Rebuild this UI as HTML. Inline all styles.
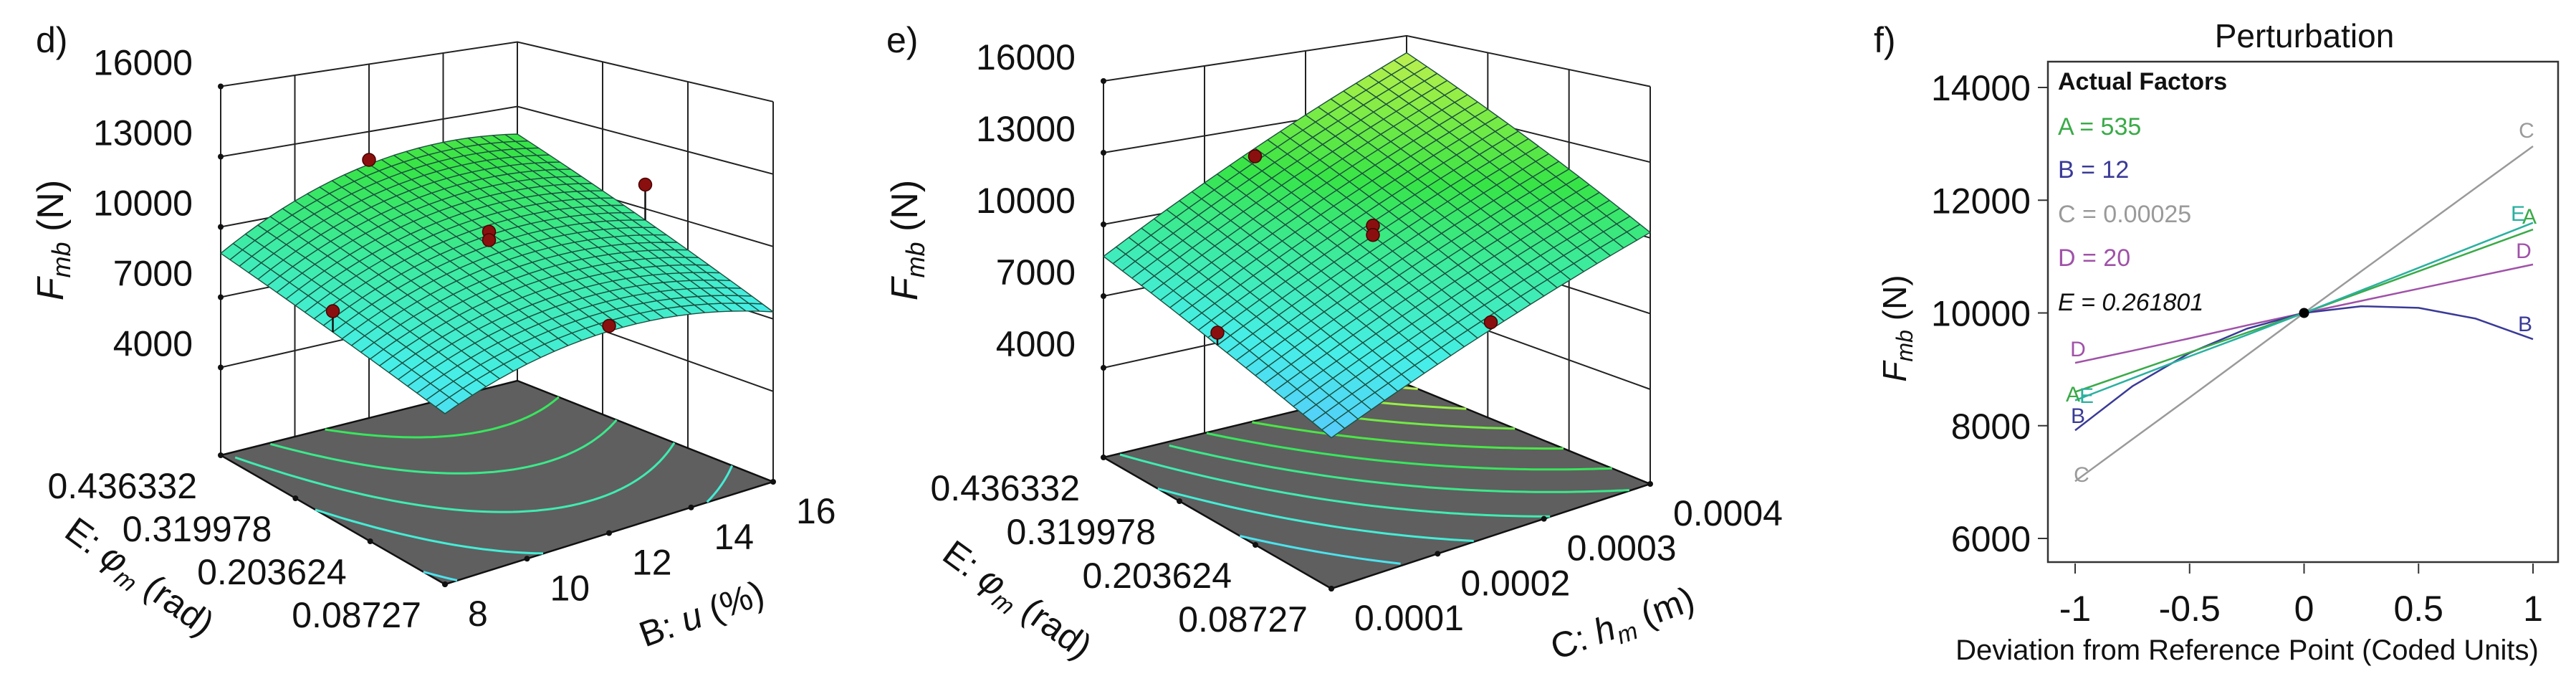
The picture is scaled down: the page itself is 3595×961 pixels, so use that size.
<!DOCTYPE html>
<html><head><meta charset="utf-8"><style>
html,body{margin:0;padding:0;background:#fff;}
svg{display:block;font-family:"Liberation Sans",sans-serif;}
</style></head><body>
<svg id="fig" width="3595" height="961" viewBox="0 0 3595 961" xmlns="http://www.w3.org/2000/svg">
<g id="pd"></g>
<g id="pe"></g>
<g id="pf"></g>
</svg>
<script>
// ---------- data ----------
const zTicks = [4000, 7000, 10000, 13000, 16000];
const eTickLabels = ['0.436332', '0.319978', '0.203624', '0.08727'];
const eTickCoded = [1, 1/3, -1/3, -1];
const bTickLabels = ['8', '10', '12', '14', '16'];
const bTickCoded = [-1, -0.5, 0, 0.5, 1];
const cTickLabels = ['0.0001', '0.0002', '0.0003', '0.0004'];
const cTickCoded = [-1, -1/3, 1/3, 1];
// surface model coefficients [mean, u, u^2, v, u*v]
const dCoef = [9920, 833, -1250, 1625, 588];
const eCoef = [10148, 2725, -150, 1948, 560];
const dContours = [7000, 8000, 9000, 10000, 11000];
const eContours = [7000, 8000, 9000, 10000, 11000, 12000, 13000, 14000, 15000];
const dPtU = [0, 1, 0, 0, -1, 0];
const dPtV = [1, 0, 0, 0, 0, -1];
const dPtZ = [11740, 11056, 10500, 10150, 8685, 8507];
const ePtU = [0, 0, 0, -1, 0];
const ePtV = [1, 0, 0, 0, -1];
const ePtZ = [11745, 10570, 10190, 7764, 8480];
// perturbation
const pertX = [-1, -0.75, -0.5, -0.25, 0, 0.25, 0.5, 0.75, 1];
const pertA = [8600, 8950, 9300, 9650, 10000, 10370, 10740, 11110, 11480];
const pertB = [7918, 8700, 9290, 9720, 10000, 10120, 10090, 9900, 9535];
const pertC = [7015, 7760, 8500, 9250, 10000, 10740, 11480, 12220, 12957];
const pertD = [9115, 9330, 9550, 9780, 10000, 10215, 10430, 10645, 10860];
const pertE = [8450, 8840, 9230, 9610, 10000, 10400, 10800, 11200, 11600];
const pertYTicks = [6000, 8000, 10000, 12000, 14000];
const pertXTicks = [-1, -0.5, 0, 0.5, 1];
const pertXTickLabels = ['-1', '-0.5', '0', '0.5', '1'];
</script>
<script>
const NS = 'http://www.w3.org/2000/svg';
function mk(tag, attrs, parent) {
  const el = document.createElementNS(NS, tag);
  for (const k in attrs) el.setAttribute(k, attrs[k]);
  parent.appendChild(el);
  return el;
}
function cmap(z) {
  const st = [[4000,[60,120,255]],[6000,[85,205,250]],[7500,[70,238,232]],[9500,[60,235,160]],[11500,[55,228,70]],[14000,[150,238,70]],[16000,[215,240,90]]];
  if (z <= st[0][0]) return 'rgb(' + st[0][1].join(',') + ')';
  for (let i = 1; i < st.length; i++) {
    if (z <= st[i][0]) {
      const f = (z - st[i-1][0]) / (st[i][0] - st[i-1][0]);
      const c = st[i-1][1].map((a, j) => Math.round(a + (st[i][1][j] - a) * f));
      return 'rgb(' + c.join(',') + ')';
    }
  }
  return 'rgb(' + st[st.length-1][1].join(',') + ')';
}
function surfacePanel(g, cfg) {
  const C = cfg.corners; // front, right, left, back: [x,y,sp]
  const Z0 = 250, ZT = 16000;
  function proj(u, v, z) {
    const s = (u + 1) / 2, t = (v + 1) / 2;
    const w = [(1-s)*(1-t), s*(1-t), (1-s)*t, s*t];
    let x = 0, y = 0, sp = 0;
    for (let i = 0; i < 4; i++) { x += w[i]*C[i][0]; y += w[i]*C[i][1]; sp += w[i]*C[i][2]; }
    return [x, y - (z - Z0) / 3000 * sp];
  }
  const k = cfg.coef;
  const F = (u, v) => k[0] + k[1]*u + k[2]*u*u + k[3]*v + k[4]*u*v;
  const pts = a => a.map(p => p[0].toFixed(1) + ',' + p[1].toFixed(1)).join(' ');
  const walls = mk('g', {}, g);
  
  
  zTicks.forEach(z => {
    const l = mk('polyline', {points: pts([proj(-1,1,z), proj(1,1,z), proj(1,-1,z)]), fill: 'none', stroke: '#222', 'stroke-width': 2}, walls);
    
    
  });
  cfg.uTicks.forEach(u => {
    const a = proj(u,1,Z0), b = proj(u,1,ZT);
    const l = mk('line', {x1:a[0],y1:a[1],x2:b[0],y2:b[1],stroke:'#222','stroke-width':2}, walls);
    
    
  });
  eTickCoded.forEach(v => {
    const a = proj(1,v,Z0), b = proj(1,v,ZT);
    const l = mk('line', {x1:a[0],y1:a[1],x2:b[0],y2:b[1],stroke:'#222','stroke-width':2}, walls);
    
    
  });
  const za = proj(-1,1,Z0), zb = proj(-1,1,ZT);
  const zl = mk('line', {x1:za[0],y1:za[1],x2:zb[0],y2:zb[1],stroke:'#222','stroke-width':2}, g);
  
  
  zTicks.forEach(z => {
    const p = proj(-1,1,z);
    const d = mk('circle', {cx:p[0], cy:p[1], r:4, fill:'#111'}, g);
    
    
    const t = mk('text', {x:p[0]-39, y:p[1]-34+18, 'text-anchor':'end', 'font-size':50, fill:'#111'}, g);
    
    
    t.textContent = String(z);
  });
  const fl = mk('polygon', {points: pts([proj(-1,-1,Z0), proj(1,-1,Z0), proj(1,1,Z0), proj(-1,1,Z0)]), fill:'#5f5f5f', stroke:'#111', 'stroke-width':2.5}, g);
  
  
  cfg.contours.forEach(L => {
    let seg = [];
    const segs = [];
    for (let i = 0; i <= 80; i++) {
      const u = -1 + 2*i/80;
      const v = (L - k[0] - k[1]*u - k[2]*u*u) / (k[3] + k[4]*u);
      if (v >= -1 && v <= 1) seg.push(proj(u, v, Z0));
      else { if (seg.length > 1) segs.push(seg); seg = []; }
    }
    if (seg.length > 1) segs.push(seg);
    segs.forEach(sg => {
      const c = mk('polyline', {points: pts(sg), fill:'none', stroke: cmap(L), 'stroke-width':3}, g);
      
      
    });
  });
  eTickCoded.forEach((v, i) => {
    const p = proj(-1, v, Z0);
    const d = mk('circle', {cx:p[0], cy:p[1], r:4, fill:'#111'}, g);
    
    
    const t = mk('text', {x:p[0]-33, y:p[1]+42+18, 'text-anchor':'end', 'font-size':50, fill:'#111'}, g);
    
    
    t.textContent = eTickLabels[i];
  });
  cfg.uTicks.forEach((u, i) => {
    const p = proj(u, -1, Z0);
    const d = mk('circle', {cx:p[0], cy:p[1], r:4, fill:'#111'}, g);
    
    
    const t = mk('text', {x:p[0]+32, y:p[1]+40+18, 'text-anchor':'start', 'font-size':50, fill:'#111'}, g);
    
    
    t.textContent = cfg.uLabels[i];
  });
  const N = 24, cells = [];
  for (let i = 0; i < N; i++) for (let j = 0; j < N; j++) cells.push([i, j]);
  cells.sort((a, b) => (b[0] + b[1]) - (a[0] + a[1]));
  const sg = mk('g', {}, g);
  
  
  cells.forEach(([i, j]) => {
    const u0 = -1 + 2*i/N, u1 = -1 + 2*(i+1)/N, v0 = -1 + 2*j/N, v1 = -1 + 2*(j+1)/N;
    const q = [[u0,v0],[u1,v0],[u1,v1],[u0,v1]];
    const zc = F((u0+u1)/2, (v0+v1)/2);
    const poly = mk('polygon', {points: pts(q.map(p => proj(p[0], p[1], F(p[0], p[1])))), fill: cmap(zc), stroke:'#1d5040', 'stroke-width':1.4, 'stroke-linejoin':'round'}, sg);
    
    
  });
  cfg.pu.forEach((u, i) => {
    const v = cfg.pv[i], z = cfg.pz[i];
    const p = proj(u, v, z), s = proj(u, v, F(u, v));
    if (z > F(u, v)) {
      const st = mk('line', {x1:p[0],y1:p[1],x2:s[0],y2:s[1],stroke:'#111','stroke-width':2.5}, g);
      
      
    }
    const c = mk('circle', {cx:p[0], cy:p[1], r:9, fill:'#8a1010', stroke:'#4a0000', 'stroke-width':1.5}, g);
    
    
  });
  const yt = mk('text', {x:0, y:0, transform:'translate(' + cfg.yTitle[0] + ',' + cfg.yTitle[1] + ') rotate(-90)', 'text-anchor':'middle', 'font-size':52, fill:'#111'}, g);
  
  
  yt.innerHTML = '<tspan font-style="italic">F</tspan><tspan font-style="italic" font-size="36" dy="10">mb</tspan><tspan dy="-10"> (N)</tspan>';
  const et = mk('text', {x:0, y:0, transform:'translate(' + cfg.eTitle[0] + ',' + cfg.eTitle[1] + ') rotate(36)', 'text-anchor':'middle', 'font-size':50, fill:'#111'}, g);
  
  
  et.innerHTML = 'E: <tspan font-style="italic">φ</tspan><tspan font-style="italic" font-size="34" dy="10">m</tspan><tspan dy="-10"> (rad)</tspan>';
  const ut = mk('text', {x:0, y:0, transform:'translate(' + cfg.uTitle[0] + ',' + cfg.uTitle[1] + ') rotate(-20)', 'text-anchor':'middle', 'font-size':50, fill:'#111'}, g);
  
  
  ut.innerHTML = cfg.uTitleHtml;
  const pl = mk('text', {x:cfg.label[0], y:cfg.label[1], 'font-size':50, fill:'#111'}, g);
  
  
  pl.textContent = cfg.labelText;
}
surfacePanel(document.getElementById('pd'), {
  corners: [[621,815,109],[1079,672,101],[308,635,98],[722,531,90]],
  coef: dCoef, contours: dContours, uTicks: bTickCoded, uLabels: bTickLabels,
  pu: dPtU, pv: dPtV, pz: dPtZ,
  yTitle: [88,335], eTitle: [185,818], uTitle: [985,872],
  uTitleHtml: 'B: <tspan font-style="italic">u</tspan> (%)',
  label: [50,73], labelText: 'd)'
});
surfacePanel(document.getElementById('pe'), {
  corners: [[1858,821,112],[2303,675,105.6],[1540,638,100],[1963,536,92.6]],
  coef: eCoef, contours: eContours, uTicks: cTickCoded, uLabels: cTickLabels,
  pu: ePtU, pv: ePtV, pz: ePtZ,
  yTitle: [1280,335], eTitle: [1410,850], uTitle: [2270,885],
  uTitleHtml: 'C: <tspan font-style="italic">h</tspan><tspan font-style="italic" font-size="34" dy="10">m</tspan><tspan dy="-10"> (m)</tspan>',
  label: [1237,73], labelText: 'e)'
});
(function () {
  const g = document.getElementById('pf');
  const X0 = 2896, X1 = 3535, Y14 = 122, Y6 = 751;
  const sx = x => X0 + (x + 1) / 2 * (X1 - X0);
  const sy = y => Y6 - (y - 6000) / 8000 * (Y6 - Y14);
  const fr = mk('rect', {x:2858, y:86, width:712, height:698, fill:'none', stroke:'#333', 'stroke-width':2.5}, g);
  
  
  pertYTicks.forEach(v => {
    const y = sy(v);
    const l = mk('line', {x1:2844, y1:y, x2:2858, y2:y, stroke:'#333', 'stroke-width':2}, g);
    
    
    const t = mk('text', {x:2834, y:y+18, 'text-anchor':'end', 'font-size':50, fill:'#111'}, g);
    
    
    t.textContent = String(v);
  });
  pertXTicks.forEach((v, i) => {
    const x = sx(v);
    const l = mk('line', {x1:x, y1:786, x2:x, y2:800, stroke:'#333', 'stroke-width':2}, g);
    
    
    const t = mk('text', {x:x, y:866, 'text-anchor':'middle', 'font-size':50, fill:'#111'}, g);
    
    
    t.textContent = pertXTickLabels[i];
  });
  const series = [['C', pertC, '#9a9a9a'], ['D', pertD, '#a052a8'], ['B', pertB, '#3a3a98'], ['A', pertA, '#3aaa48'], ['E', pertE, '#2ab0a0']];
  series.forEach(([name, vals, col]) => {
    const p = mk('polyline', {points: pertX.map((x, i) => sx(x).toFixed(1) + ',' + sy(vals[i]).toFixed(1)).join(' '), fill:'none', stroke: col, 'stroke-width':2.5, 'stroke-linejoin':'round'}, g);
    
    
  });
  const endLabels = [['C',2905,672,3526,192,'#9a9a9a'],['D',2900,497,3522,360,'#a052a8'],['B',2900,590,3524,462,'#3a3a98'],['A',2893,560,3530,312,'#3aaa48'],['E',2912,562,3514,308,'#2ab0a0']];
  endLabels.forEach(([n, x1, y1, x2, y2, col]) => {
    [[x1, y1], [x2, y2]].forEach(([x, y]) => {
      const t = mk('text', {x:x, y:y, 'text-anchor':'middle', 'font-size':30, fill:col}, g);
      
      
      t.textContent = n;
    });
  });
  const dot = mk('circle', {cx:sx(0), cy:sy(10000), r:7, fill:'#000'}, g);
  
  
  const leg = [['Actual Factors', '#111', 113, 'bold', 'normal'], ['A = 535', '#3aaa48', 176, 'normal', 'normal'], ['B = 12', '#3a3a98', 236, 'normal', 'normal'], ['C = 0.00025', '#9a9a9a', 298, 'normal', 'normal'], ['D = 20', '#a052a8', 359, 'normal', 'normal'], ['E = 0.261801', '#111', 421, 'normal', 'italic']];
  leg.forEach(([txt, col, y, w, st]) => {
    const t = mk('text', {x:2872, y:y+12, 'font-size':34, fill:col, 'font-weight':w, 'font-style':st}, g);
    
    
    t.textContent = txt;
  });
  const title = mk('text', {x:3216, y:66, 'text-anchor':'middle', 'font-size':46, fill:'#111'}, g);
  
  
  title.textContent = 'Perturbation';
  const xt = mk('text', {x:3136, y:920, 'text-anchor':'middle', 'font-size':40, fill:'#111'}, g);
  
  
  xt.textContent = 'Deviation from Reference Point (Coded Units)';
  const yt = mk('text', {x:0, y:0, transform:'translate(2660,458) rotate(-90)', 'text-anchor':'middle', 'font-size':46, fill:'#111'}, g);
  
  
  yt.innerHTML = '<tspan font-style="italic">F</tspan><tspan font-style="italic" font-size="32" dy="9">mb</tspan><tspan dy="-9"> (N)</tspan>';
  const pl = mk('text', {x:2615, y:73, 'font-size':50, fill:'#111'}, g);
  
  
  pl.textContent = 'f)';
})();
</script>
</body></html>
